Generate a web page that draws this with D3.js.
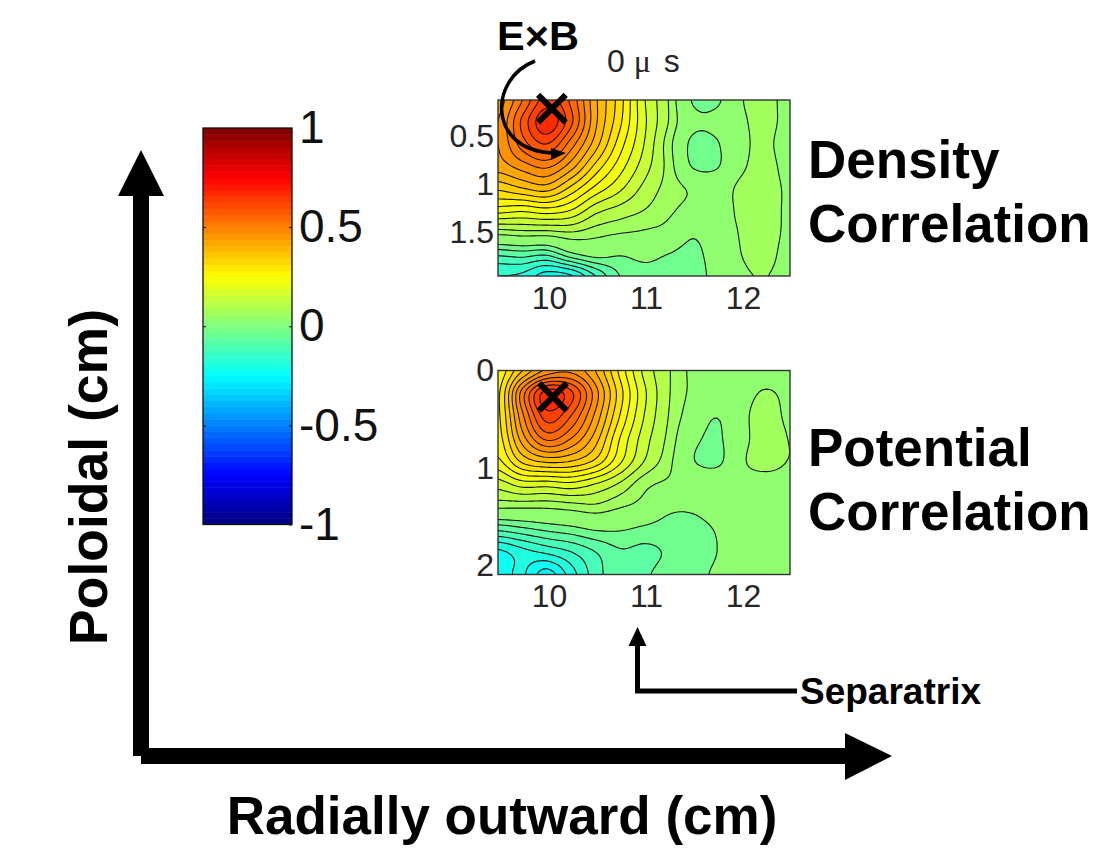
<!DOCTYPE html>
<html><head><meta charset="utf-8">
<style>html,body{margin:0;padding:0;background:#fff}svg{display:block}text{font-family:"Liberation Sans",Arial,sans-serif}</style>
<script src="https://cdn.jsdelivr.net/npm/d3@7"></script></head><body>
<script>
const colorbarTicks = [1, 0.5, 0, -0.5, -1];
const panelXTicks = [10, 11, 12];
const densityYTicks = [0.5, 1, 1.5];
const potentialYTicks = [0, 1, 2];
const densityMarker = [10.03, 0.215];
const potentialMarker = [10.04, 0.27];
const densityTitle = ["Density", "Correlation"];
const potentialTitle = ["Potential", "Correlation"];
const contourLevels = [-0.28,-0.24,-0.2,-0.16,-0.12,-0.08,-0.04,0.04,0.08,0.12,0.16,0.2,0.24,0.28,0.32,0.36,0.4,0.44,0.48,0.52,0.56,0.6,0.64];

const densityGrid = [
 [.42,.52,.62,.55,.41,.30,.165,.08,-.045,-.05,.036,.055,.02],
 [.44,.57,.67,.57,.41,.29,.17,.08,-.02,-.02,.03,.055,.02],
 [.44,.54,.60,.50,.38,.26,.16,.06,-.055,-.045,.025,.05,.01],
 [.42,.46,.49,.42,.31,.22,.14,.065,-.045,-.045,.03,.055,.02],
 [.33,.36,.38,.31,.23,.17,.11,.065,.03,.01,.052,.06,.03],
 [.22,.21,.225,.20,.135,.105,.08,.05,.02,.01,.052,.06,.03],
 [.06,.07,.07,.08,.06,.045,.035,.02,-.03,.00,.045,.06,.028],
 [-.11,-.10,-.11,-.05,-.02,-.035,-.025,-.04,-.055,-.01,.04,.055,.02],
 [-.20,-.21,-.26,-.245,-.16,-.08,-.055,-.055,-.06,-.02,.03,.041,.02]
];
const potentialGrid = [
 [.25,.36,.45,.47,.40,.27,.15,.085,.03,.02,.02,.02,.02],
 [.27,.50,.66,.61,.46,.30,.17,.085,.03,.02,.025,.044,.03],
 [.27,.47,.62,.56,.43,.28,.16,.08,.01,-.037,.025,.058,.03],
 [.26,.42,.53,.48,.38,.24,.14,.07,-.02,-.05,.02,.065,.038],
 [.23,.33,.37,.36,.31,.21,.12,.055,-.035,-.055,.03,.058,.038],
 [.14,.18,.18,.19,.16,.115,.055,.03,.015,.01,.02,.02,.02],
 [.05,.05,.05,.06,.07,.045,.02,-.025,-.03,-.01,.02,.025,.025],
 [-.11,-.09,-.07,-.055,-.035,-.035,-.05,-.06,-.055,-.035,.01,.02,.02],
 [-.25,-.215,-.19,-.16,-.12,-.085,-.09,-.075,-.06,-.04,.01,.02,.02],
 [-.26,-.235,-.30,-.22,-.14,-.09,-.085,-.065,-.055,-.03,.01,.02,.02]
];

const W = 1115, H = 860;
const svg = d3.select("body").append("svg").attr("width", W).attr("height", H);

function jet(v) {
  const t = (v + 1) / 2;
  const c = x => Math.round(255 * Math.max(0, Math.min(1, x)));
  return d3.rgb(c(Math.min(4*t-1.5, 4.5-4*t)), c(Math.min(4*t-0.5, 3.5-4*t)), c(Math.min(4*t+0.5, 2.5-4*t))).formatHex();
}
function bandColor(l) { return l > 0 ? jet(l + 0.025) : (l > -0.05 ? jet(0.03) : jet(l + 0.05)); }

// Catmull-Rom resampling of the read grid so that contours are smooth, as in the source plot
function resample(grid, k) {
  const rows = grid.length, cols = grid[0].length;
  const cr = (a,b,c,d,t) => 0.5*((2*b)+(c-a)*t+(2*a-5*b+4*c-d)*t*t+(3*b-a-3*c+d)*t*t*t);
  const get = (r,c) => grid[Math.max(0,Math.min(rows-1,r))][Math.max(0,Math.min(cols-1,c))];
  const n = (cols-1)*k+1, m = (rows-1)*k+1, out = new Array(n*m);
  for (let j=0;j<m;j++) for (let i=0;i<n;i++) {
    const r=Math.min(rows-2,Math.floor(j/k)), c=Math.min(cols-2,Math.floor(i/k));
    const tr=j/k-r, tc=i/k-c, col=[];
    for (let q=-1;q<=2;q++) col.push(cr(get(r+q,c-1),get(r+q,c),get(r+q,c+1),get(r+q,c+2),tc));
    out[j*n+i]=cr(col[0],col[1],col[2],col[3],tr);
  }
  return {values:out,n,m};
}

function panel(grid, box, yDomain, yTicks, marker, id) {
  const x = d3.scaleLinear().domain([9.474, 12.485]).range([box.x0, box.x1]);
  const y = d3.scaleLinear().domain(yDomain).range([box.y0, box.y1]);
  const g = svg.append("g");
  g.append("clipPath").attr("id", id).append("rect")
    .attr("x", box.x0).attr("y", box.y0).attr("width", box.x1-box.x0).attr("height", box.y1-box.y0);
  const {values,n,m} = resample(grid, 8);
  const px = d3.scaleLinear().domain([0.5, n-0.5]).range([box.x0, box.x1]);
  const py = d3.scaleLinear().domain([0.5, m-0.5]).range([box.y0, box.y1]);
  const path = d3.geoPath(d3.geoTransform({point(a,b){this.stream.point(px(a),py(b));}}));
  const plot = g.append("g").attr("clip-path", `url(#${id})`);
  plot.append("rect").attr("x", box.x0).attr("y", box.y0).attr("width", box.x1-box.x0).attr("height", box.y1-box.y0)
    .attr("fill", jet(-0.27));
  const cs = d3.contours().size([n,m]).thresholds(contourLevels)(values);
  cs.forEach(c => {
    if (!c.coordinates.length) return;
    plot.append("path").attr("d", path(c)).attr("fill", bandColor(c.value))
      .attr("stroke", "#141414").attr("stroke-width", 1.1);
  });
  g.append("rect").attr("x", box.x0).attr("y", box.y0).attr("width", box.x1-box.x0).attr("height", box.y1-box.y0)
    .attr("fill", "none").attr("stroke", "#333").attr("stroke-width", 1.4);
  const ax = g.append("g").attr("transform", `translate(0,${box.y1})`)
    .call(d3.axisBottom(x).tickValues(panelXTicks).tickSize(0).tickPadding(box.xPad).tickFormat(d3.format("d")));
  const ay = g.append("g").attr("transform", `translate(${box.x0},0)`)
    .call(d3.axisLeft(y).tickValues(yTicks).tickSize(0).tickPadding(4).tickFormat(d => String(d)));
  [ax, ay].forEach(a => { a.select(".domain").remove();
    a.selectAll("text").attr("font-size", 32).attr("fill", "#262626").attr("font-family", '"Liberation Sans",Arial,sans-serif'); });
  g.append("path").attr("transform", `translate(${x(marker[0])},${y(marker[1])})`)
    .attr("d", d3.symbol(d3.symbolTimes).size(500)())
    .attr("fill", "none").attr("stroke", "#000").attr("stroke-width", 6);
}

panel(densityGrid, {x0:498,x1:790,y0:100,y1:276,xPad:10}, [0.125,1.96], densityYTicks, densityMarker, "clipD");
panel(potentialGrid, {x0:498,x1:790,y0:370.5,y1:574.5,xPad:10}, [0,2.09], potentialYTicks, potentialMarker, "clipP");

// colour bar
const cbY = d3.scaleLinear().domain([1,-1]).range([128,524.5]);
const cbLevels = d3.range(64).map(i => -1 + (i+0.5)*2/64);
svg.append("g").selectAll("rect").data(cbLevels).join("rect")
  .attr("x", 203).attr("width", 89)
  .attr("y", d => cbY(d + 1/64)).attr("height", d => cbY(d - 1/64) - cbY(d + 1/64) + 0.5)
  .attr("fill", d => jet(d));
svg.append("rect").attr("x",203).attr("y",128).attr("width",89).attr("height",396.5)
  .attr("fill","none").attr("stroke","#111").attr("stroke-width",1.3);
const cbAxis = svg.append("g").attr("transform","translate(292,0)")
  .call(d3.axisRight(cbY).tickValues(colorbarTicks).tickSizeInner(-3).tickSizeOuter(0).tickPadding(10).tickFormat(d=>String(d)));
cbAxis.select(".domain").remove();
cbAxis.selectAll("line").attr("stroke","#111");
cbAxis.selectAll("text").attr("font-size",46).attr("fill","#111").attr("font-family",'"Liberation Sans",Arial,sans-serif').attr("x",7);
const cbAxisL = svg.append("g").attr("transform","translate(203,0)")
  .call(d3.axisRight(cbY).tickValues(colorbarTicks.slice(1,4)).tickSize(3).tickFormat(""));
cbAxisL.select(".domain").remove();
cbAxisL.selectAll("line").attr("stroke","#111");

// big axis arrows
svg.append("rect").attr("x",133).attr("y",190).attr("width",16).attr("height",566).attr("fill","#000");
svg.append("path").attr("d","M141,150L164,196L118,196Z").attr("fill","#000");
svg.append("rect").attr("x",141).attr("y",748).attr("width",706).attr("height",16).attr("fill","#000");
svg.append("path").attr("d","M892,756L845,733L845,780Z").attr("fill","#000");
// separatrix arrow
svg.append("path").attr("d","M637.5,645V691H797").attr("fill","none").attr("stroke","#000").attr("stroke-width",5);
svg.append("path").attr("d","M637.5,627L646.5,646L628.5,646Z").attr("fill","#000");
// E×B arrow
svg.append("path").attr("d","M535,61C488,79 488,150 552,153").attr("fill","none").attr("stroke","#000").attr("stroke-width",3.5);
svg.append("path").attr("d","M566,153L551,148L551,160Z").attr("fill","#000");

function label(t,x,y,size,opts={}) {
  const s = svg.append("text").attr("x",x).attr("y",y).attr("font-size",size).attr("fill",opts.fill||"#000")
    .attr("font-weight",opts.weight||"bold").text(t);
  if (opts.anchor) s.attr("text-anchor",opts.anchor);
  if (opts.rotate) s.attr("transform",`rotate(${opts.rotate} ${x} ${y})`);
  return s;
}
label("E×B",497,50,41.5);
const timeText = label("",607,72,32,{fill:"#262626",weight:"normal"});
timeText.append("tspan").text("0 ");
timeText.append("tspan").attr("font-family",'"Liberation Serif",serif').text("μ");
timeText.append("tspan").attr("dx",4).text(" s");
densityTitle.forEach((t,i)=>label(t,808,178+i*64,53));
potentialTitle.forEach((t,i)=>label(t,808,466+i*64,53));
label("Separatrix",800,704,37);
label("Radially outward (cm)",502,834,53,{anchor:"middle"});
label("Poloidal (cm)",107,477,53.5,{anchor:"middle",rotate:-90});
</script></body></html>
